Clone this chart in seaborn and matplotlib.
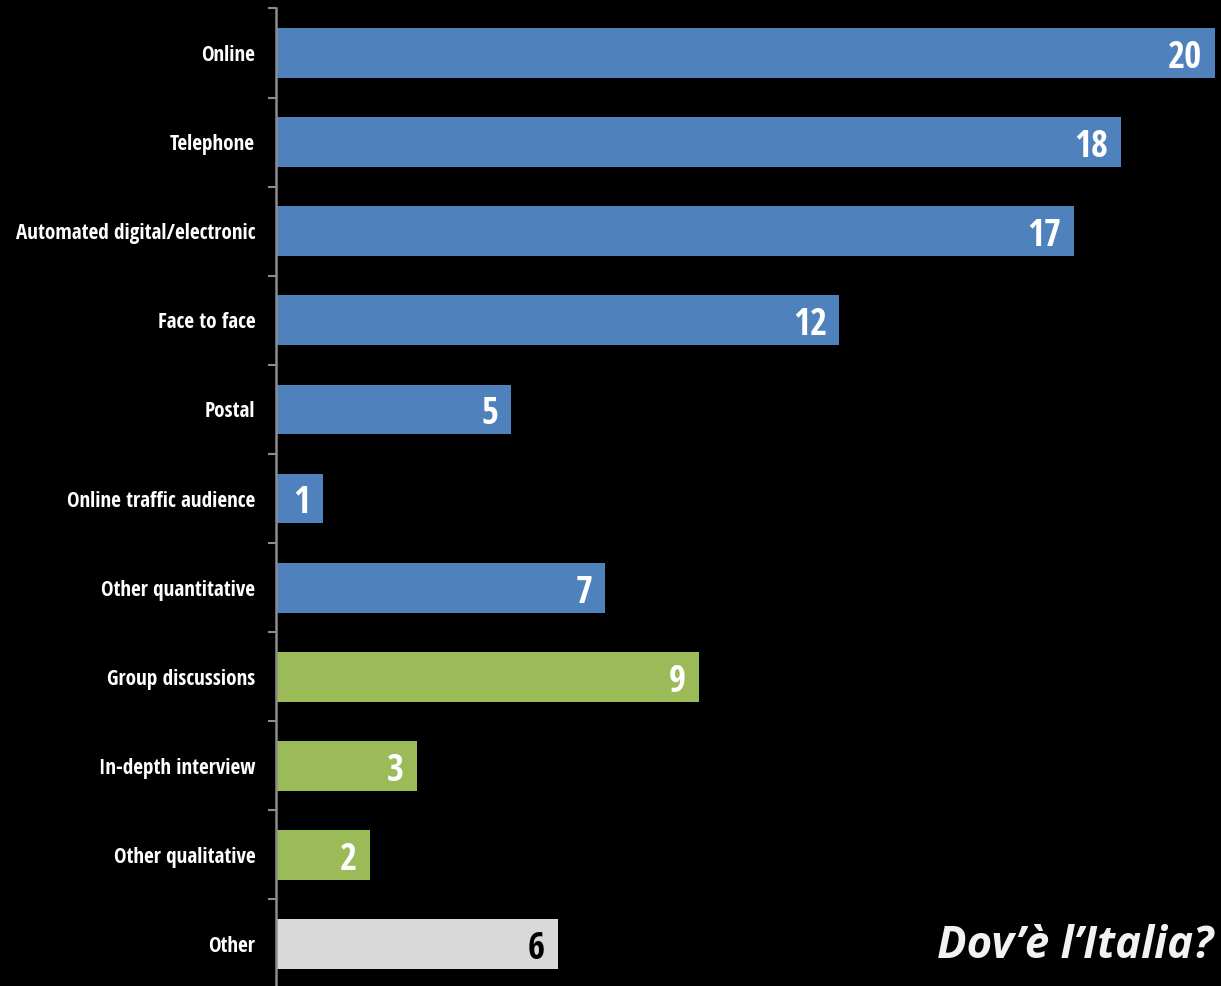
import matplotlib
matplotlib.use("Agg")
import matplotlib.pyplot as plt
import seaborn as sns
import pandas as pd

categories = ["Online", "Telephone", "Automated digital/electronic", "Face to face",
              "Postal", "Online traffic audience", "Other quantitative",
              "Group discussions", "In-depth interview", "Other qualitative", "Other"]
values = [20, 18, 17, 12, 5, 1, 7, 9, 3, 2, 6]
groups = ["quant"] * 7 + ["qual"] * 3 + ["other"]
palette = {"quant": "#4F81BD", "qual": "#9BBB59", "other": "#D9D9D9"}
label_colors = {"quant": "white", "qual": "white", "other": "black"}
watermark = "Dov\u2019\u00e8 l\u2019Italia?"

sns.set_theme(style="white")
plt.rcParams["font.family"] = ["Open Sans Condensed", "DejaVu Sans"]

df = pd.DataFrame({"category": categories, "value": values, "group": groups})

fig = plt.figure(figsize=(12.21, 9.86), dpi=100, facecolor="black")
top_px, step_px = 8.5, 89.1
n = len(categories)
ax = fig.add_axes([276 / 1221, 1 - (top_px + step_px * n) / 986,
                   (1215 - 276) / 1221, step_px * n / 986])
ax.set_facecolor("black")

sns.barplot(data=df, x="value", y="category", hue="group", palette=palette,
            dodge=False, width=0.56, legend=False, ax=ax, saturation=1, orient="h",
            linewidth=0, edgecolor="none")

ax.set_xlim(0, 20)
ax.set_ylim(n - 0.5, -0.5)
ax.set_xlabel("")
ax.set_ylabel("")
ax.set_xticks([])

ax.set_yticks(range(n))
ax.set_yticklabels(categories, color="white", fontsize=15.2, fontweight="bold")
ax.set_yticks([i - 0.5 for i in range(n + 1)], minor=True)
ax.tick_params(axis="y", which="major", length=0, pad=15)
ax.tick_params(axis="y", which="minor", length=6, width=1.5, color="#8c8c8c", left=True)

for s in ["top", "right", "bottom"]:
    ax.spines[s].set_visible(False)
ax.spines["left"].set_color("#8c8c8c")
ax.spines["left"].set_linewidth(1.8)

for i, (v, g) in enumerate(zip(values, groups)):
    ax.annotate(str(v), xy=(v, i), xytext=(-9, -3.5), textcoords="offset points",
                ha="right", va="center", fontsize=26.5, fontweight="bold",
                color=label_colors[g])

fig.text(1213 / 1221, 1 - 947 / 986, watermark, ha="right", va="center",
         fontsize=31.5, fontweight="bold", style="italic", color="#f2f2f2",
         family=["Open Sans", "DejaVu Sans"])

fig.savefig("out.png", dpi=100, facecolor="black")
